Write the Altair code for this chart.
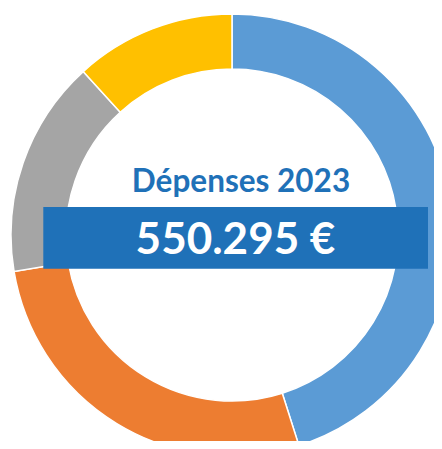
import altair as alt
import pandas as pd

categories = ["Poste 1", "Poste 2", "Poste 3", "Poste 4"]
values = [248200, 150000, 87400, 64695]
colors = ["#5B9BD5", "#ED7D31", "#A5A5A5", "#FFC000"]
title_text = ["Dépenses 2023"]
total_text = ["550.295 €"]

df = pd.DataFrame({"cat": categories, "val": values, "idx": list(range(len(categories)))})

cx, cy = 224, 227

arcs = alt.Chart(df).mark_arc(
    outerRadius=221, innerRadius=166, stroke="white", strokeWidth=1.5
).encode(
    theta=alt.Theta("val:Q", stack=True),
    order=alt.Order("idx:Q"),
    color=alt.Color("cat:N", scale=alt.Scale(domain=categories, range=colors), legend=None),
    x=alt.value(cx),
    y=alt.value(cy),
)

band = alt.Chart(pd.DataFrame({"t": total_text})).mark_rect(color="#1F71B8").encode(
    x=alt.value(35.3), x2=alt.value(420), y=alt.value(199), y2=alt.value(260.7)
)

title = alt.Chart(pd.DataFrame({"t": title_text})).mark_text(
    font="Lato", fontWeight="bold", fontSize=31.5, color="#1F71B8",
    align="center", baseline="alphabetic"
).encode(text="t:N", x=alt.value(233), y=alt.value(184))

total = alt.Chart(pd.DataFrame({"t": total_text})).mark_text(
    font="Lato", fontWeight="bold", fontSize=44, color="white",
    align="center", baseline="alphabetic"
).encode(text="t:N", x=alt.value(227.5), y=alt.value(246.3))

chart = alt.layer(arcs, band, title, total).properties(
    width=426, height=433, padding=0, autosize=alt.AutoSizeParams(type="none")
).configure_view(stroke=None)

chart.save("out.html", embed_options={"renderer": "svg", "actions": False})
